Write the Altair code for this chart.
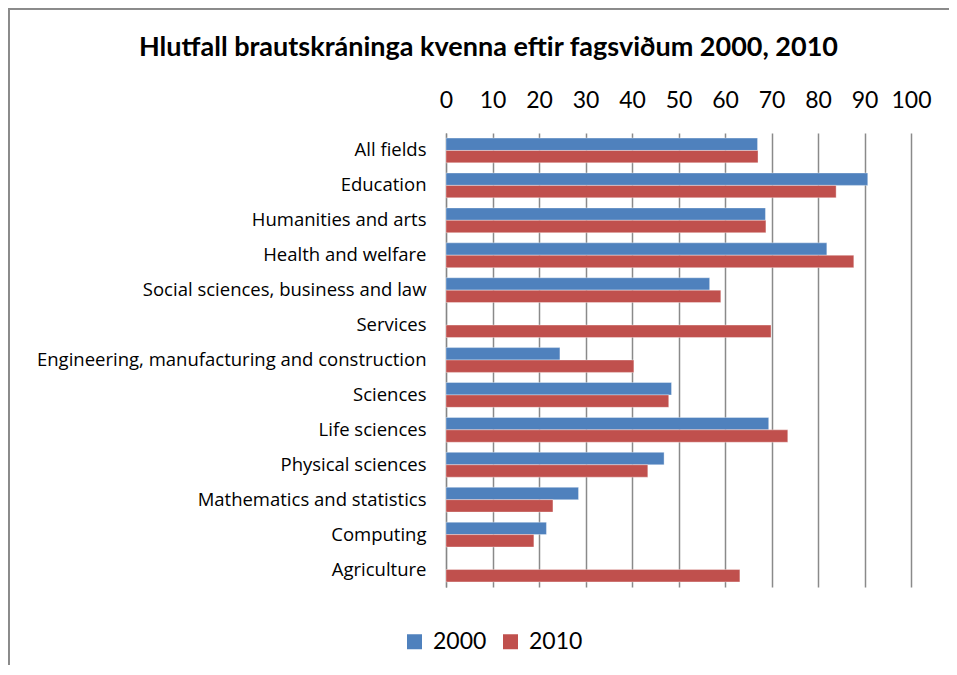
import altair as alt
import pandas as pd

fields = [
    "All fields",
    "Education",
    "Humanities and arts ",
    "Health and welfare ",
    "Social sciences, business and law ",
    "Services ",
    "Engineering, manufacturing and construction ",
    "Sciences",
    "Life sciences",
    "Physical sciences",
    "Mathematics and statistics",
    "Computing",
    "Agriculture ",
]
values_2000 = [67.0, 90.7, 68.7, 81.9, 56.7, None, 24.5, 48.5, 69.4, 46.9, 28.5, 21.6, None]
values_2010 = [67.1, 83.9, 68.8, 87.7, 59.1, 69.9, 40.4, 47.9, 73.5, 43.4, 23.0, 18.9, 63.2]
years = ["2000", "2010"]
colors = ["#4F81BD", "#C0504D"]
x_ticks = list(range(0, 101, 10))

rows = []
for f, a, b in zip(fields, values_2000, values_2010):
    if a is not None:
        rows.append({"field": f, "year": "2000", "value": a})
    if b is not None:
        rows.append({"field": f, "year": "2010", "value": b})
df = pd.DataFrame(rows)

FONT = "Lato"
LABEL_FONT = "Open Sans"
W, H = 465, 454
PAD_L, PAD_T, PAD_R, PAD_B = 438, 125, 38, 78

bars = alt.Chart(df).mark_bar(stroke="#ffffff", strokeWidth=0.6, strokeOpacity=0.6).encode(
    x=alt.X(
        "value:Q",
        scale=alt.Scale(domain=[0, 100], nice=False),
        axis=alt.Axis(
            orient="top",
            values=x_ticks,
            title=None,
            grid=True,
            gridColor="#8a8a8a",
            gridWidth=1.5,
            domain=False,
            ticks=False,
            labelFontSize=23,
            labelFont=FONT,
            labelColor="#000000",
            labelPadding=21,
            labelFlush=False,
        ),
    ),
    y=alt.Y(
        "field:N",
        sort=fields,
        scale=alt.Scale(paddingInner=0.29, paddingOuter=0.145),
        axis=alt.Axis(
            title=None,
            ticks=False,
            domain=True,
            domainColor="#868686",
            domainWidth=1.2,
            labelFontSize=18.5,
            labelFont=LABEL_FONT,
            labelColor="#000000",
            labelPadding=20,
            labelLimit=500,
        ),
    ),
    yOffset=alt.YOffset("year:N", sort=years),
    color=alt.Color(
        "year:N",
        sort=years,
        scale=alt.Scale(domain=years, range=colors),
        legend=alt.Legend(
            title=None,
            orient="none",
            legendX=-43,
            legendY=497,
            direction="horizontal",
            symbolType="square",
            symbolSize=225,
            symbolStrokeWidth=0,
            labelFontSize=23,
            labelFont=FONT,
            labelColor="#000000",
            labelOffset=7,
            columnPadding=12,
            padding=0,
        ),
    ),
)

frame_top = alt.Chart(df).mark_rule(color="#8a8a8a", strokeWidth=1.5).encode(
    x=alt.value(-437.5), x2=alt.value(W + PAD_R + 5), y=alt.value(-124.5)
)
frame_left = alt.Chart(df).mark_rule(color="#8a8a8a", strokeWidth=1.5).encode(
    x=alt.value(-437.5), y=alt.value(-124.5), y2=alt.value(H + PAD_B + 5)
)

chart = alt.layer(frame_top, frame_left, bars).properties(
    width=W,
    height=H,
    autosize=alt.AutoSizeParams(type="none"),
    padding={"left": PAD_L, "top": PAD_T, "right": PAD_R, "bottom": PAD_B},
    title=alt.TitleParams(
        "Hlutfall brautskráninga kvenna eftir fagsviðum 2000, 2010",
        font=FONT,
        fontSize=27,
        fontWeight="bold",
        color="#000000",
        anchor="middle",
        frame="group",
        dx=-190,
        offset=-54,
    ),
).configure_view(stroke=None)

chart.save("out.html", embed_options={"renderer": "svg", "actions": False})
